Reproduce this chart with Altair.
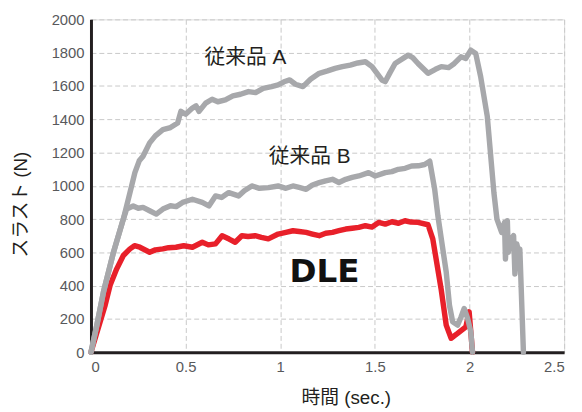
import altair as alt
import pandas as pd

# --- data ---
a_t = [0, 0.031, 0.066, 0.119, 0.171, 0.206, 0.232, 0.255, 0.275, 0.31, 0.34, 0.38, 0.42, 0.458, 0.475, 0.5,
       0.536, 0.555, 0.571, 0.606, 0.64, 0.67, 0.71, 0.75, 0.79, 0.832, 0.87, 0.91, 0.954, 0.989, 1.02, 1.05,
       1.08, 1.12, 1.16, 1.206, 1.25, 1.29, 1.328, 1.37, 1.41, 1.45, 1.485, 1.537, 1.555, 1.58, 1.607, 1.676,
       1.70, 1.728, 1.781, 1.82, 1.851, 1.89, 1.92, 1.955, 1.98, 2.007, 2.033, 2.059, 2.094, 2.129, 2.145,
       2.17, 2.185, 2.19, 2.20, 2.205, 2.22, 2.233, 2.24, 2.25, 2.26, 2.266, 2.285]
a_v = [0, 163, 362, 601, 800, 959, 1079, 1150, 1178, 1258, 1300, 1337, 1350, 1377, 1447, 1430,
       1467, 1480, 1447, 1497, 1520, 1505, 1516, 1540, 1550, 1566, 1560, 1585, 1596, 1606, 1625, 1636,
       1610, 1596, 1640, 1676, 1690, 1705, 1716, 1725, 1738, 1745, 1716, 1636, 1626, 1680, 1735, 1785,
       1770, 1735, 1676, 1700, 1716, 1710, 1735, 1775, 1765, 1815, 1795, 1656, 1417, 959, 800,
       720, 780, 560, 790, 600, 680, 700, 470, 650, 600, 620, 0]

b_t = [0, 0.031, 0.066, 0.119, 0.171, 0.188, 0.223, 0.25, 0.275, 0.31, 0.345, 0.38, 0.42, 0.45, 0.484,
       0.536, 0.588, 0.623, 0.658, 0.69, 0.728, 0.78, 0.81, 0.85, 0.89, 0.937, 0.989, 1.03, 1.067, 1.1,
       1.137, 1.17, 1.206, 1.24, 1.276, 1.31, 1.346, 1.38, 1.415, 1.467, 1.502, 1.555, 1.59, 1.624, 1.66,
       1.694, 1.73, 1.763, 1.79, 1.816, 1.833, 1.851, 1.877, 1.894, 1.911, 1.937, 1.955, 1.972, 1.99,
       2.007, 2.016]
b_v = [0, 163, 362, 601, 800, 860, 879, 865, 870, 850, 830, 860, 880, 875, 900,
       919, 900, 879, 939, 930, 959, 939, 970, 999, 985, 989, 999, 985, 999, 990,
       979, 1005, 1019, 1030, 1039, 1020, 1039, 1050, 1059, 1079, 1059, 1079, 1085, 1099, 1105,
       1119, 1120, 1128, 1148, 979, 820, 681, 482, 283, 183, 163, 210, 263, 203,
       124, 0]

d_t = [0, 0.031, 0.075, 0.101, 0.136, 0.171, 0.206, 0.23, 0.258, 0.31, 0.34, 0.38, 0.41, 0.449, 0.49,
       0.536, 0.588, 0.62, 0.658, 0.693, 0.73, 0.762, 0.797, 0.83, 0.867, 0.9, 0.937, 0.989, 1.03,
       1.067, 1.1, 1.137, 1.17, 1.206, 1.24, 1.276, 1.31, 1.346, 1.38, 1.415, 1.45, 1.485, 1.52, 1.555,
       1.59, 1.625, 1.659, 1.69, 1.728, 1.781, 1.806, 1.85, 1.877, 1.903, 1.937, 1.981, 1.998, 2.016]
d_v = [0, 117, 283, 402, 501, 581, 621, 640, 631, 601, 615, 621, 628, 631, 640,
       631, 661, 645, 651, 700, 680, 661, 700, 695, 700, 690, 681, 710, 720,
       730, 725, 720, 710, 700, 715, 720, 730, 740, 745, 750, 760, 752, 780, 770,
       784, 775, 790, 782, 780, 766, 681, 380, 163, 84, 113, 153, 243, 0]

series_names = ["DLE", "従来品 B", "従来品 A"]
series_colors = ["#e8202a", "#a7a8ab", "#a7a8ab"]

label_text = ["従来品 A", "従来品 B", "DLE"]
label_t = [0.600, 0.939, 1.049]
label_v = [1768, 1175, 481]

x_ticks = [0, 0.5, 1, 1.5, 2, 2.5]
y_ticks = [0, 200, 400, 600, 800, 1000, 1200, 1400, 1600, 1800, 2000]

rows = []
for name, ts, vs in [("DLE", d_t, d_v), ("従来品 B", b_t, b_v), ("従来品 A", a_t, a_v)]:
    for i, (t, v) in enumerate(zip(ts, vs)):
        rows.append({"series": name, "i": i, "t": t, "v": v})
df = pd.DataFrame(rows)

FONT = "Liberation Sans, Noto Sans CJK JP"

x_axis = alt.Axis(values=x_ticks, format="~g", title="時間 (sec.)", labelOverlap=False, tickCount=6,
                  titleX=258, titleY=46, titleBaseline="middle", titleAlign="center",
                  titleFontSize=19, titleFontWeight="normal", titleColor="#231f20", titleFont=FONT,
                  labelFontSize=15, labelColor="#58595b", labelFont=FONT, labelPadding=8,
                  ticks=False, domainColor="#231f20", domainWidth=3,
                  gridDash=[5, 3], gridColor="#c8c8c8", gridWidth=1)
y_axis = alt.Axis(values=y_ticks, format="d", title="スラスト (N)", labelOverlap=False, tickCount=11,
                  titleX=-71, titleY=187, titleAngle=270, titleBaseline="middle", titleAlign="center",
                  titleFontSize=19, titleFontWeight="normal", titleColor="#231f20", titleFont=FONT,
                  labelFontSize=15, labelColor="#58595b", labelFont=FONT, labelPadding=7,
                  ticks=False, domainColor="#231f20", domainWidth=3,
                  gridDash=[5, 3], gridColor="#c8c8c8", gridWidth=1)
x_scale = alt.Scale(domain=[0, 2.5], nice=False)
y_scale = alt.Scale(domain=[0, 2000], nice=False)


def X():
    return alt.X("t:Q", scale=x_scale, axis=x_axis)


def Y():
    return alt.Y("v:Q", scale=y_scale, axis=y_axis)


lines = alt.Chart(df).mark_line(strokeWidth=5.5, strokeJoin="round", strokeCap="round").encode(
    x=X(), y=Y(),
    color=alt.Color("series:N", scale=alt.Scale(domain=series_names, range=series_colors), legend=None),
    detail="series:N",
    order="i:Q",
)

lab_df = pd.DataFrame({"text": label_text[:2], "t": label_t[:2], "v": label_v[:2]})
labels = alt.Chart(lab_df).mark_text(align="left", baseline="middle", fontSize=21, font=FONT,
                                     color="#231f20").encode(x=X(), y=Y(), text="text:N")

dle_df = pd.DataFrame({"text": label_text[2:], "t": label_t[2:], "v": label_v[2:]})
dle = alt.Chart(dle_df).mark_text(align="left", baseline="middle", fontSize=33, font="DejaVu Sans",
                                  fontWeight="bold", color="#111111").encode(x=X(), y=Y(), text="text:N")

chart = alt.layer(lines, labels, dle).properties(
    width=479, height=337,
    autosize=alt.AutoSizeParams(type="none"),
    padding={"left": 84, "top": 9, "right": 10, "bottom": 57},
).configure_view(stroke="#bcbdc0", strokeWidth=2).configure(background="white")

chart.save("out.html", embed_options={"renderer": "svg", "actions": False})
